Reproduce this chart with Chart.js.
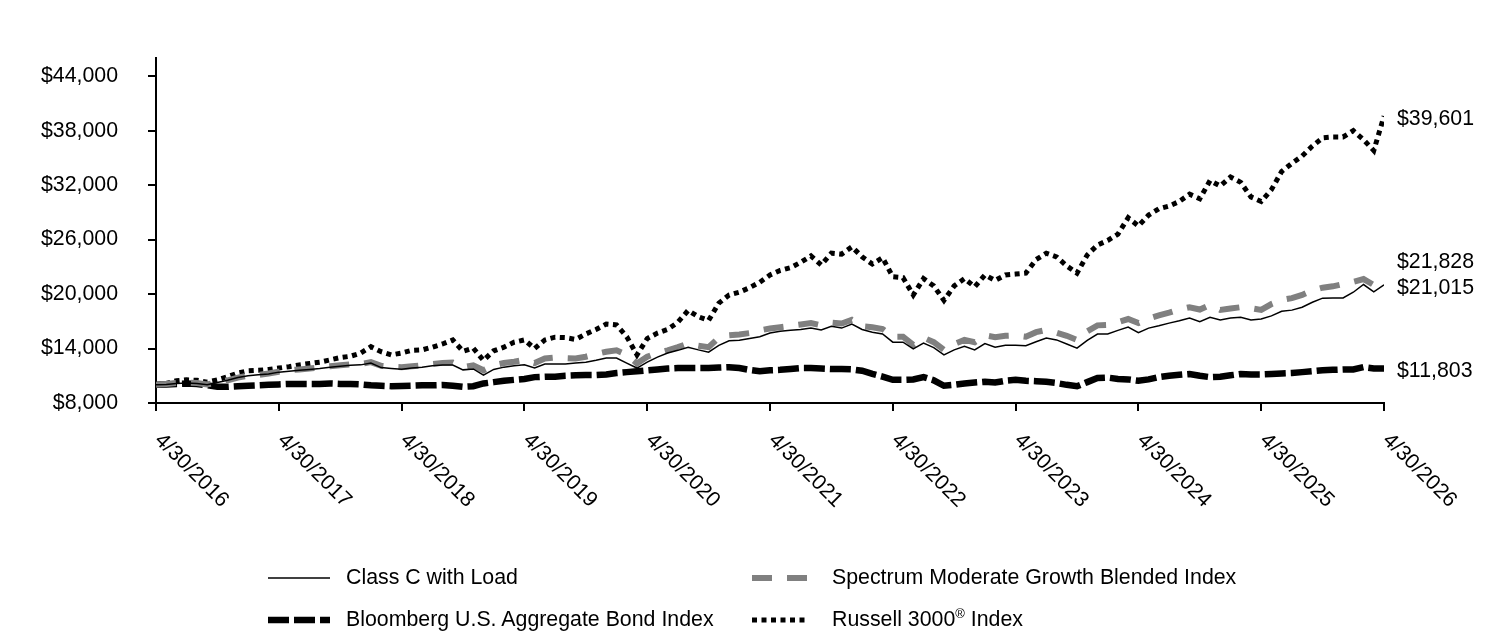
<!DOCTYPE html>
<html>
<head>
<meta charset="utf-8">
<script src="https://cdn.jsdelivr.net/npm/chart.js@4.4.1/dist/chart.umd.min.js"></script>
<style>
  body { margin: 0; background: #fff; font-family: "Liberation Sans", Arial, sans-serif; }
  #wrap { position: relative; width: 1512px; height: 636px; }
  .leg { position: absolute; font-size: 21.33px; line-height: 1; color: #000; white-space: nowrap; }
  .leg svg { position: absolute; }
  sup { font-size: 13px; line-height: 0; vertical-align: 8px; }
</style>
</head>
<body>
<div id="wrap">
  <canvas id="myChart" width="1512" height="636"></canvas>
</div>
<script>
// x axis tick labels, one every 12 months
const tickLabels = ['4/30/2016','4/30/2017','4/30/2018','4/30/2019','4/30/2020','4/30/2021',
  '4/30/2022','4/30/2023','4/30/2024','4/30/2025','4/30/2026']
const yTicks = [8000, 14000, 20000, 26000, 32000, 38000, 44000]

// monthly values, 4/30/2016 .. 4/30/2026
const classC = [
  10000,10050,10150,10200,10150,10000,10250,10500,10800,11000,11100,11200,
  11400,11500,11600,11700,11800,11950,12050,12150,12200,12400,11900,11800,
  11720,11850,11950,12100,12180,12180,11650,11750,11080,11700,11950,12100,
  12200,11850,12300,12300,12300,12400,12500,12700,12950,12950,12400,11850,
  12500,13050,13500,13800,14150,13850,13600,14350,14850,14900,15100,15300,
  15700,15900,16000,16100,16250,16050,16450,16250,16700,16100,15800,15600,
  14700,14700,13950,14600,14100,13300,13850,14250,13850,14550,14150,14350,
  14350,14300,14750,15150,14950,14500,14050,14900,15600,15600,16000,16370,
  15750,16250,16500,16800,17050,17350,16950,17450,17150,17350,17450,17150,
  17250,17600,18100,18230,18550,19100,19550,19560,19570,20200,21050,20250,
  21015]
const spectrum = [
  10000,10100,10200,10250,10200,10050,10250,10500,10800,11000,11100,11250,
  11450,11600,11700,11800,11900,12050,12150,12250,12300,12500,12100,12000,
  11950,12050,12150,12300,12420,12450,11950,12150,11600,12150,12400,12550,
  12750,12400,12900,13000,12950,12900,13100,13400,13650,13800,13300,12350,
  13100,13500,13800,14150,14550,14300,14150,15200,15450,15550,15700,16000,
  16200,16350,16500,16650,16800,16550,16850,16750,17150,16450,16350,16150,
  15300,15300,14400,15200,14700,13850,14500,14950,14700,15450,15250,15400,
  15450,15300,15800,16050,15750,15400,14950,15900,16550,16600,16900,17250,
  16800,17300,17650,17950,18300,18550,18300,18800,18250,18400,18550,18450,
  18250,18900,19350,19550,19900,20400,20700,20850,21100,21350,21650,21000,
  21828]
const bondAgg = [
  10000,10050,10100,10150,10100,9950,9800,9780,9850,9900,9950,10000,
  10050,10100,10100,10100,10100,10150,10100,10100,10050,9950,9900,9850,
  9870,9900,9950,9950,9980,9900,9780,9850,10150,10300,10450,10550,
  10650,10850,10900,10900,11000,11050,11080,11080,11150,11300,11400,11500,
  11600,11700,11800,11850,11850,11850,11850,11900,11950,11850,11650,11500,
  11600,11650,11750,11850,11850,11800,11750,11750,11700,11550,11200,10900,
  10550,10550,10600,10850,10500,9900,10000,10150,10250,10350,10250,10450,
  10550,10450,10400,10330,10200,10000,9850,10300,10750,10800,10650,10600,
  10450,10600,10850,11000,11100,11200,11000,10850,10900,11050,11200,11150,
  11150,11200,11250,11300,11400,11500,11600,11650,11700,11700,11950,11800,
  11803]
const russell = [
  10000,10150,10450,10550,10500,10300,10550,10900,11300,11550,11600,11700,
  11850,12000,12200,12350,12500,12750,13000,13150,13500,14200,13650,13300,
  13500,13800,13850,14150,14500,14950,13700,14050,12700,13750,14150,14700,
  14950,14000,14950,15250,15200,15000,15600,16100,16700,16600,15300,13300,
  15100,15700,16100,16900,18200,17500,17100,19000,19900,20200,20700,21300,
  22100,22600,22900,23500,24200,23200,24500,24400,25200,24100,23300,24000,
  21900,21800,19900,21700,20900,19300,20900,21700,20800,22100,21500,22100,
  22200,22300,23800,24500,24100,23100,22300,24300,25400,25900,26600,28400,
  27500,28700,29400,29700,30200,31000,30500,32500,31900,32900,32300,30700,
  30200,31500,33500,34400,35200,36300,37200,37300,37300,38000,37000,35800,
  39601]

const seriesNames = ['Class C with Load', 'Spectrum Moderate Growth Blended Index',
  'Bloomberg U.S. Aggregate Bond Index', 'Russell 3000<sup>®</sup> Index']

const FONT = '"Liberation Sans", Arial, sans-serif'
const fmt = v => '$' + v.toLocaleString('en-US')
const pts = arr => arr.map((v, i) => ({x: i, y: v}))

const styles = [
  {color: '#000000', width: 1.5, dash: []},
  {color: '#808080', width: 6, dash: [20, 15]},
  {color: '#000000', width: 6.5, dash: [21, 5]},
  {color: '#000000', width: 5, dash: [5, 4.5]}
]
const series = [classC, spectrum, bondAgg, russell]

// labels at the end of each line + rotated date labels
const overlay = {
  id: 'overlay',
  afterDraw(chart) {
    const ctx = chart.ctx
    const x = chart.scales.x, y = chart.scales.y
    ctx.save()
    ctx.font = '21.33px ' + FONT
    ctx.fillStyle = '#000'
    ctx.textAlign = 'left'
    ctx.textBaseline = 'middle'
    tickLabels.forEach((t, k) => {
      ctx.save()
      ctx.translate(x.getPixelForValue(k * 12) + 2, y.bottom + 34)
      ctx.rotate(Math.PI / 4)
      ctx.fillText(t, 0, 0)
      ctx.restore()
    })
    const ends = series.map(s => ({v: s[s.length - 1], py: y.getPixelForValue(s[s.length - 1]) + 3}))
    ends.sort((a, b) => b.py - a.py)
    for (let i = 1; i < ends.length; i++) {
      if (ends[i - 1].py - ends[i].py < 26) ends[i].py = ends[i - 1].py - 26
    }
    ends.forEach(e => ctx.fillText(fmt(e.v), x.right + 13, e.py))
    ctx.restore()
  }
}

const chart = new Chart(document.getElementById('myChart'), {
  type: 'line',
  data: {
    datasets: series.map((s, i) => ({
      label: seriesNames[i],
      data: pts(s),
      borderColor: styles[i].color,
      borderWidth: styles[i].width,
      borderDash: styles[i].dash,
      borderCapStyle: 'butt',
      borderJoinStyle: 'miter',
      pointRadius: 0,
      tension: 0,
      fill: false
    }))
  },
  options: {
    responsive: false,
    animation: false,
    layout: {padding: {top: 58, right: 128, bottom: 0, left: 0}},
    plugins: {legend: {display: false}, tooltip: {enabled: false}},
    scales: {
      x: {
        type: 'linear',
        min: 0,
        max: 120,
        afterBuildTicks: s => { s.ticks = tickLabels.map((t, k) => ({value: k * 12})) },
        afterFit: s => { s.height = 233 },
        ticks: {display: false},
        grid: {drawOnChartArea: false, drawTicks: true, tickLength: 8, color: '#000', lineWidth: 2},
        border: {display: true, color: '#000', width: 2}
      },
      y: {
        min: 8000,
        max: 46000,
        afterBuildTicks: s => { s.ticks = yTicks.map(v => ({value: v})) },
        afterFit: s => { s.width = 156 },
        ticks: {
          color: '#000',
          padding: 30,
          font: {family: FONT, size: 21.33},
          callback: v => fmt(v)
        },
        grid: {drawOnChartArea: false, drawTicks: true, tickLength: 8, color: '#000', lineWidth: 2},
        border: {display: true, color: '#000', width: 2}
      }
    }
  },
  plugins: [overlay]
})

// legend, 2 x 2
const wrap = document.getElementById('wrap')
const legPos = [[268, 578, 62], [752, 578, 56], [268, 620, 62], [752, 620, 56]]
seriesNames.forEach((name, i) => {
  const [lx, ly, len] = legPos[i]
  const st = styles[i]
  const item = document.createElement('div')
  item.className = 'leg'
  item.style.left = lx + 'px'
  item.style.top = (ly - 11) + 'px'
  item.innerHTML =
    `<svg width="${len}" height="12" style="left:0;top:5px">` +
    `<line x1="0" y1="6" x2="${len}" y2="6" stroke="${st.color}" stroke-width="${st.width}" ` +
    `stroke-dasharray="${st.dash.length ? st.dash.join(' ') : 'none'}"/></svg>` +
    `<span style="position:absolute;left:${(i % 2 ? 80 : 78)}px;top:0">${name}</span>`
  wrap.appendChild(item)
})
</script>
</body>
</html>
